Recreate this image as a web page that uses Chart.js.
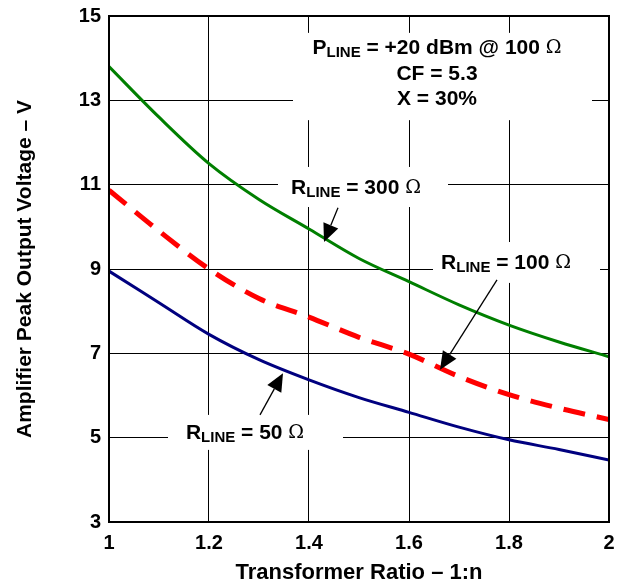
<!DOCTYPE html>
<html>
<head>
<meta charset="utf-8">
<script src="https://cdn.jsdelivr.net/npm/chart.js@4.4.0/dist/chart.umd.min.js"></script>
<style>
  html, body { margin: 0; padding: 0; background: #fff; }
  #wrap { width: 633px; height: 588px; position: relative; }
</style>
</head>
<body>
<div id="wrap"><canvas id="ratioChart" width="633" height="588"></canvas></div>
<script>
// transformer ratio 1:n
const ratio = [1.0, 1.1, 1.2, 1.3, 1.4, 1.5, 1.6, 1.7, 1.8, 1.9, 2.0];
// amplifier peak output voltage (V) per line impedance
const v300 = [13.8, 12.6, 11.5, 10.65, 9.95, 9.25, 8.7, 8.15, 7.67, 7.27, 6.92];
const v100 = [10.87, 9.9, 9.0, 8.3, 7.86, 7.38, 6.98, 6.45, 6.02, 5.7, 5.43];
const v50 = [8.95, 8.2, 7.45, 6.85, 6.37, 5.95, 5.6, 5.25, 4.95, 4.72, 4.47];

const xTicks = [1, 1.2, 1.4, 1.6, 1.8, 2];
const yTicks = [3, 5, 7, 9, 11, 13, 15];

const FONT = "Liberation Sans, Arial, sans-serif";
const BIG = "bold 21px " + FONT;
const SUB = "bold 15px " + FONT;
const OHM = "19px DejaVu Serif, serif";

const pts = (ys) => ratio.map((x, i) => ({ x: x, y: ys[i] }));

// callouts, in data units
const notes = [
  { box: [1.368, 1.966, 14.6, 12.53] },
  { box: [1.338, 1.678, 11.42, 10.47], label: "300", at: [1.494, 10.92], arrow: [1.458, 10.45, 1.43, 9.64] },
  { box: [1.648, 1.982, 9.64, 8.67], label: "100", at: [1.794, 9.14], arrow: [1.776, 8.74, 1.662, 6.61] },
  { box: [1.118, 1.468, 5.54, 4.71], label: "50", at: [1.272, 5.11], arrow: [1.302, 5.54, 1.348, 6.53] },
];

// text run with a lowered subscript, centred on cx
function runText(ctx, cx, cy, parts) {
  let w = 0;
  parts.forEach(p => { ctx.font = p[0]; w += ctx.measureText(p[1]).width; });
  let x = cx - w / 2;
  ctx.textAlign = "left";
  ctx.textBaseline = "middle";
  parts.forEach(p => {
    ctx.font = p[0];
    ctx.fillText(p[1], x, cy + p[2]);
    x += ctx.measureText(p[1]).width;
  });
}

function arrow(ctx, x0, y0, x1, y1) {
  const ang = Math.atan2(y1 - y0, x1 - x0);
  const len = 18, half = 8;
  const bx = x1 - len * Math.cos(ang), by = y1 - len * Math.sin(ang);
  ctx.lineWidth = 1.3;
  ctx.beginPath();
  ctx.moveTo(x0, y0);
  ctx.lineTo(bx, by);
  ctx.stroke();
  ctx.beginPath();
  ctx.moveTo(x1, y1);
  ctx.lineTo(bx + half * Math.sin(ang), by - half * Math.cos(ang));
  ctx.lineTo(bx - half * Math.sin(ang), by + half * Math.cos(ang));
  ctx.closePath();
  ctx.fill();
}

const callouts = {
  id: "callouts",
  beforeDatasetsDraw(chart) {
    const { ctx, scales: { x, y } } = chart;
    ctx.save();
    ctx.fillStyle = "#fff";
    notes.forEach(n => {
      const [x0, x1, y0, y1] = n.box;
      const px = x.getPixelForValue(x0), py = y.getPixelForValue(y0);
      ctx.fillRect(px, py, x.getPixelForValue(x1) - px, y.getPixelForValue(y1) - py);
    });
    ctx.restore();
  },
  afterDatasetsDraw(chart) {
    const { ctx, chartArea: a, scales: { x, y } } = chart;
    ctx.save();
    ctx.fillStyle = "#000";
    ctx.strokeStyle = "#000";

    // test conditions
    const cx = x.getPixelForValue(1.656);
    runText(ctx, cx, y.getPixelForValue(14.24),
      [[BIG, "P", 0], [SUB, "LINE", 5], [BIG, " = +20 dBm @ 100 ", 0], [OHM, "\u03A9", 0]]);
    ctx.font = BIG;
    ctx.textAlign = "center";
    ctx.fillText("CF = 5.3", cx, y.getPixelForValue(13.62));
    ctx.fillText("X = 30%", cx, y.getPixelForValue(13.03));

    notes.forEach(n => {
      if (!n.label) return;
      runText(ctx, x.getPixelForValue(n.at[0]), y.getPixelForValue(n.at[1]),
        [[BIG, "R", 0], [SUB, "LINE", 5], [BIG, " = " + n.label + " ", 0], [OHM, "\u03A9", 0]]);
      const [ax0, ay0, ax1, ay1] = n.arrow;
      arrow(ctx, x.getPixelForValue(ax0), y.getPixelForValue(ay0), x.getPixelForValue(ax1), y.getPixelForValue(ay1));
    });

    // frame
    ctx.lineWidth = 2;
    ctx.strokeRect(a.left, a.top, a.right - a.left, a.bottom - a.top);
    ctx.restore();
  }
};

new Chart(document.getElementById("ratioChart"), {
  type: "line",
  data: {
    datasets: [
      { label: "RLINE = 300", data: pts(v300), borderColor: "#007F00", borderWidth: 3 },
      { label: "RLINE = 100", data: pts(v100), borderColor: "#FF0000", borderWidth: 5, borderDash: [22, 12] },
      { label: "RLINE = 50", data: pts(v50), borderColor: "#00007F", borderWidth: 3 },
    ]
  },
  options: {
    responsive: false,
    animation: false,
    devicePixelRatio: 1,
    layout: { padding: { left: 0, right: 24, top: 16, bottom: 0 } },
    elements: {
      point: { radius: 0 },
      line: { cubicInterpolationMode: "monotone", borderCapStyle: "butt" }
    },
    plugins: { legend: { display: false }, tooltip: { enabled: false } },
    scales: {
      x: {
        type: "linear",
        min: 1, max: 2,
        afterBuildTicks: (s) => { s.ticks = xTicks.map(v => ({ value: v })); },
        afterFit: (s) => { s.height = 66; s.paddingLeft = 0; s.paddingRight = 0; },
        grid: { color: "#000", lineWidth: 1, drawTicks: false },
        border: { color: "#000", width: 2 },
        ticks: {
          padding: 9, color: "#000",
          font: { family: FONT, size: 20, weight: "bold" },
          maxRotation: 0,
          callback: (v) => String(Math.round(v * 10) / 10)
        },
        title: {
          display: true, text: "Transformer Ratio \u2013 1:n", color: "#000",
          font: { family: FONT, size: 22, weight: "bold" },
          padding: { top: 0, bottom: 2 }
        }
      },
      y: {
        min: 3, max: 15,
        afterBuildTicks: (s) => { s.ticks = yTicks.map(v => ({ value: v })); },
        afterFit: (s) => { s.width = 109; s.paddingTop = 0; s.paddingBottom = 0; },
        grid: { color: "#000", lineWidth: 1, drawTicks: false },
        border: { color: "#000", width: 2 },
        ticks: {
          padding: 8, color: "#000",
          font: { family: FONT, size: 20, weight: "bold" }
        },
        title: {
          display: true, text: "Amplifier Peak Output Voltage \u2013 V", color: "#000",
          font: { family: FONT, size: 21, weight: "bold" },
          padding: { top: 13, bottom: 0 }
        }
      }
    }
  },
  plugins: [callouts]
});
</script>
</body>
</html>
